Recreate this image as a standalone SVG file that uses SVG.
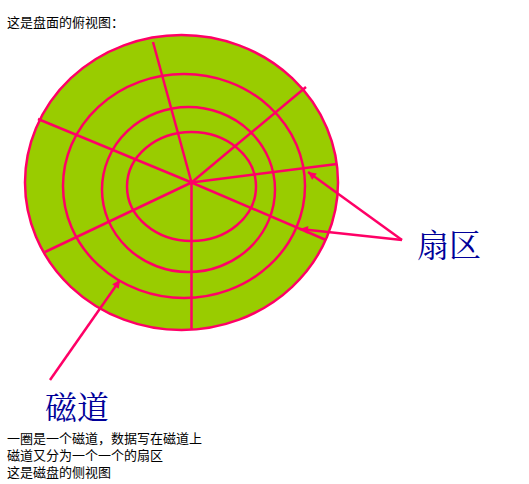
<svg xmlns="http://www.w3.org/2000/svg" width="529" height="484" viewBox="0 0 529 484">
<style>
.ring{fill:none;stroke:#ff0066;stroke-width:2.5}
.ln{stroke:#ff0066;stroke-width:2.5;fill:none}
.small{font-family:"Noto Sans CJK SC","Liberation Sans",sans-serif;font-size:13px;fill:#000}
.big{font-family:"Noto Serif CJK SC","Noto Sans CJK SC",serif;font-size:32px;fill:#000099}
</style>
<defs>
<marker id="ah" viewBox="0 0 10 10" refX="10" refY="5" markerWidth="10" markerHeight="8" orient="auto" markerUnits="userSpaceOnUse">
<path d="M0,0 L10,5 L0,10 z" fill="#ff0066"/>
</marker>
</defs>
<rect width="529" height="484" fill="#fff"/>
<text class="small" x="7" y="27">这是盘面的俯视图：</text>
<g id="disk">
<ellipse cx="181.5" cy="182.5" rx="156.5" ry="147.5" fill="#99cc00" stroke="#ff0066" stroke-width="2.5"/>
<ellipse class="ring" cx="184" cy="186" rx="121" ry="112"/>
<ellipse class="ring" cx="188.5" cy="189.5" rx="86.5" ry="82.5"/>
<ellipse class="ring" cx="191.5" cy="186.5" rx="64.5" ry="54.5"/>
<g id="sectors" class="ln">
<line x1="191.5" y1="182.5" x2="153" y2="42"/>
<line x1="191.5" y1="182.5" x2="306" y2="87"/>
<line x1="191.5" y1="182.5" x2="337" y2="164"/>
<line x1="191.5" y1="182.5" x2="326" y2="240"/>
<line x1="191.5" y1="182.5" x2="191.5" y2="329"/>
<line x1="191.5" y1="182.5" x2="45" y2="252"/>
<line x1="191.5" y1="182.5" x2="38" y2="119"/>
</g>
</g>
<g id="connectors">
<line class="ln" x1="402" y1="240" x2="308" y2="172" marker-end="url(#ah)"/>
<line class="ln" x1="402" y1="240" x2="300" y2="229" marker-end="url(#ah)"/>
<line class="ln" x1="50" y1="380" x2="120" y2="280" marker-end="url(#ah)"/>
</g>
<g id="label-sector"><text class="big" x="417" y="257">扇区</text></g>
<g id="label-track"><text class="big" x="45" y="419">磁道</text></g>
<text class="small" x="7" y="443">一圈是一个磁道，数据写在磁道上</text>
<text class="small" x="7" y="460">磁道又分为一个一个的扇区</text>
<text class="small" x="7" y="477">这是磁盘的侧视图</text>
</svg>
